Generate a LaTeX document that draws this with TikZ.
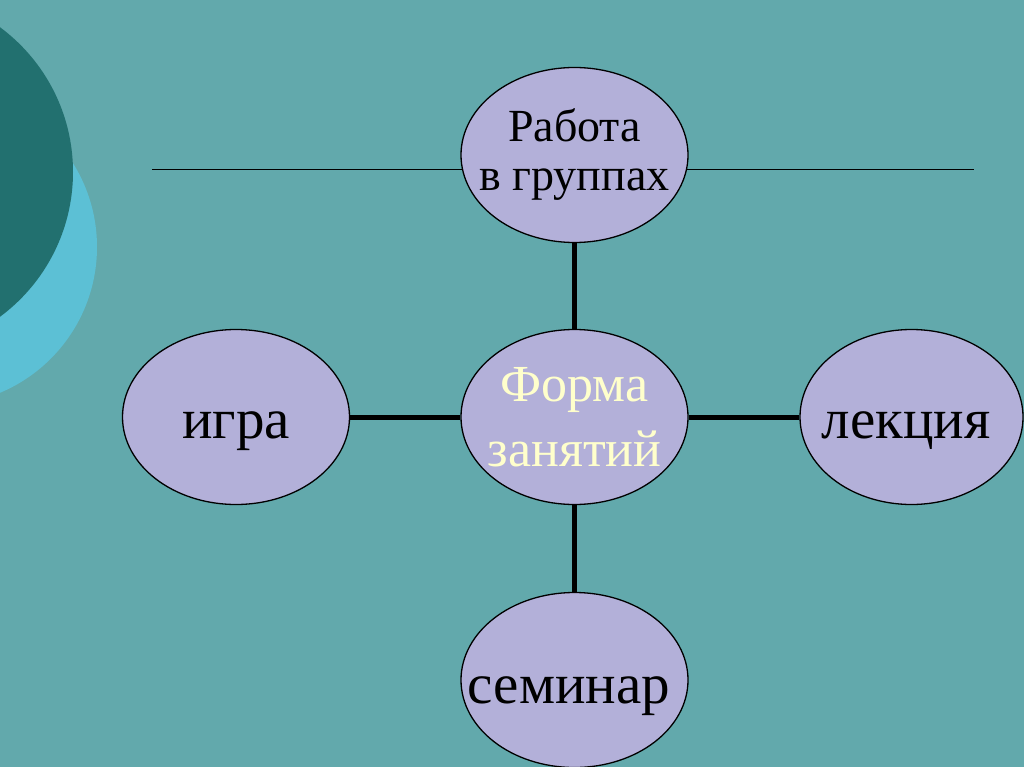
\documentclass[tikz,border=0pt]{standalone}
\usepackage{fontspec}
\setmainfont{Liberation Serif}
\usetikzlibrary{shapes.geometric}

\definecolor{slidebg}{HTML}{62A9AC}
\definecolor{darkdisc}{HTML}{22706F}
\definecolor{lightdisc}{HTML}{5CC0D5}
\definecolor{lavender}{HTML}{B3B0D9}
\definecolor{paleyellow}{HTML}{FFFFCC}

\begin{document}
\begin{tikzpicture}[x=1pt, y=-1pt, line join=round]
	\tikzset{
		blob/.style={ellipse, draw=black, line width=1.3pt, fill=lavender,
			minimum width=227pt, minimum height=175pt, inner sep=0pt},
		word/.style={anchor=base, inner sep=0pt, font=\fontsize{57}{62}\selectfont},
		link/.style={line width=5pt}
	}
	
	% Background and the two discs at the left edge
	\fill[slidebg] (0,0) rectangle (1024,767);
	\useasboundingbox (0,0) rectangle (1024,767);
	\begin{scope}
		\clip (0,0) rectangle (1024,767);
		\fill[lightdisc] (-61,247) circle (158pt);
		\fill[darkdisc] (-107,172) circle (180pt);
	\end{scope}
	
	% Thin rule behind the top ellipse
	\coordinate (ruleL) at (152,170);
	\coordinate (ruleR) at (974,170);
	\draw[line width=1pt] (ruleL) -- (ruleR);
	
	% Ellipses
	\node[blob] (groups) at (574.5,155) {};
	\node[blob] (form) at (574.5,417) {};
	\node[blob] (game) at (236,417) {};
	\node[blob, minimum width=223pt] (lecture) at (911.5,417) {};
	\node[blob] (seminar) at (574.5,680) {};
	
	% Texts
	\node[align=center, font=\fontsize{46}{49}\selectfont] (groupsText) at (groups) {Работа\\в группах};
	\node[align=center, text=paleyellow, font=\fontsize{52}{65}\selectfont] (formText) at (form) {Форма\\занятий};
	\node[word] (gameText) at (236,438) {игра};
	\node[word] (lectureText) at (906,438) {лекция};
	\node[word] (seminarText) at (569,703) {семинар};
	
	% Thick links to the centre
	\draw[link] (groups.south) -- (form.north);
	\draw[link] (game.east) -- (form.west);
	\draw[link] (form.east) -- (lecture.west);
	\draw[link] (form.south) -- (seminar.north);
	
\end{tikzpicture}
\end{document}
